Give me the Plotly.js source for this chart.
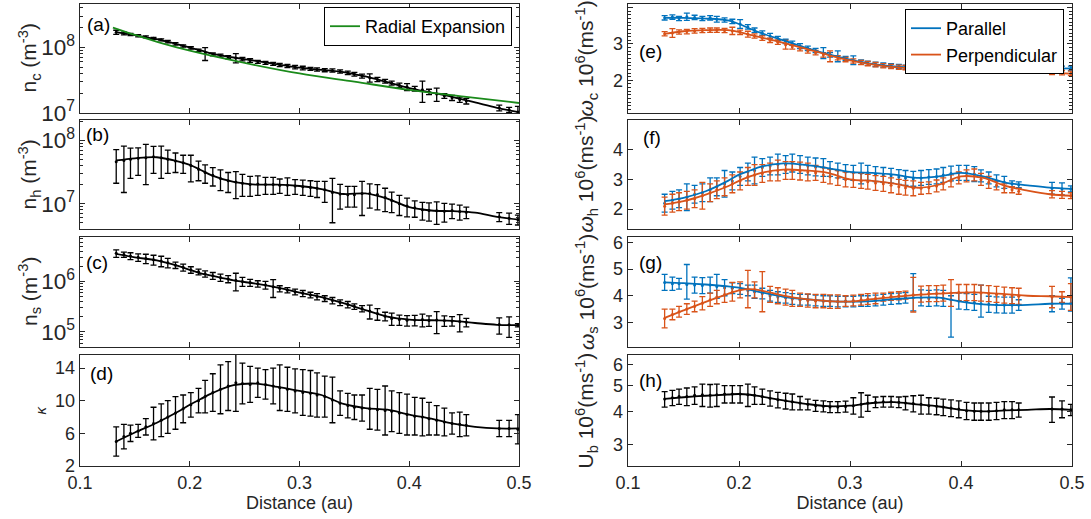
<!DOCTYPE html>
<html><head><meta charset="utf-8">
<script src="https://cdn.plot.ly/plotly-3.0.1.min.js"></script>
<style>body{margin:0;background:#fff}#chart{width:1091px;height:519px}</style>
</head><body><div id="chart"></div><script>
// ---------- data ----------
const distance = [0.133,0.140,0.146,0.153,0.160,0.167,0.174,0.180,0.187,0.194,
 0.201,0.208,0.214,0.221,0.228,0.235,0.242,0.248,0.255,0.262,
 0.269,0.276,0.282,0.289,0.296,0.303,0.310,0.316,0.323,0.330,
 0.337,0.344,0.350,0.357,0.364,0.371,0.378,0.384,0.391,0.398,
 0.405,0.412,0.418,0.425,0.432,0.439,0.446,0.452,0.482,0.491,0.499];
const fitDistance = [0.133,0.15,0.17,0.19,0.2,0.21,0.22,0.24,0.26,0.28,0.3,0.32,0.34,0.36,0.38,0.4,0.42,0.44,0.46,0.48,0.5];
const radialDistance = [0.13,0.15,0.175,0.2,0.25,0.3,0.35,0.4,0.45,0.5];
const radialExpansion = [2.0e8,1.55e8,1.15e8,8.9e7,5.8e7,4.0e7,3.0e7,2.25e7,1.78e7,1.42e7];

const ncData = [1.70e8,1.63e8,1.57e8,1.50e8,1.44e8,1.37e8,1.30e8,1.22e8,1.13e8,1.05e8,
 9.8e7,9.0e7,8.1e7,7.8e7,7.5e7,7.1e7,6.9e7,6.6e7,6.3e7,6.0e7,
 5.8e7,5.6e7,5.4e7,5.2e7,5.0e7,4.85e7,4.7e7,4.6e7,4.5e7,4.45e7,
 4.3e7,4.1e7,3.9e7,3.65e7,3.45e7,3.25e7,3.05e7,2.85e7,2.65e7,2.5e7,
 2.35e7,2.25e7,2.1e7,1.95e7,1.82e7,1.7e7,1.6e7,1.52e7,1.2e7,1.12e7,1.04e7];
const ncErr = [1.2e7,8e6,6e6,6e6,5e6,5e6,5e6,5e6,5e6,4e6,
 4e6,4e6,1.8e7,4e6,4e6,4e6,1.1e7,4e6,4e6,3e6,
 3e6,3e6,3e6,3e6,3e6,3e6,2.5e6,2.5e6,2.5e6,2.5e6,
 2.5e6,2.5e6,2.5e6,2.5e6,5e6,2.5e6,2e6,2e6,2e6,3e6,
 2e6,8e6,2e6,4.5e6,1.5e6,1.5e6,1.5e6,1.5e6,1.2e6,1e6,2.2e6];
const ncFit = [1.70e8,1.53e8,1.33e8,1.10e8,9.9e7,9.0e7,8.0e7,7.0e7,6.2e7,5.5e7,4.9e7,4.55e7,4.2e7,3.6e7,2.95e7,2.4e7,2.05e7,1.75e7,1.45e7,1.2e7,1.03e7];

const nhData = [4.6e7,4.8e7,5.0e7,5.2e7,5.3e7,5.5e7,5.3e7,5.0e7,4.7e7,4.4e7,
 4.0e7,3.5e7,3.1e7,2.8e7,2.5e7,2.3e7,2.2e7,2.1e7,2.0e7,2.05e7,
 2.0e7,2.0e7,1.95e7,1.95e7,1.9e7,1.85e7,1.8e7,1.75e7,1.65e7,1.5e7,
 1.42e7,1.38e7,1.38e7,1.45e7,1.45e7,1.4e7,1.25e7,1.12e7,1.0e7,9.2e6,
 8.6e6,8.0e6,7.8e6,7.7e6,7.6e6,7.8e6,7.5e6,7.3e6,6.2e6,5.9e6,5.6e6];
const nhErr = [2.5e7,3.3e7,2.5e7,2.4e7,3.3e7,2.5e7,2.8e7,2.0e7,1.6e7,1.4e7,
 1.8e7,1.2e7,1.0e7,9e6,9e6,8e6,1.0e7,8e6,7e6,7e6,
 6e6,6e6,5e6,6e6,5e6,5e6,5e6,5e6,6e6,1.0e7,
 6e6,5e6,5e6,8e6,6e6,6e6,5e6,4e6,3.5e6,3e6,
 2.5e6,2.5e6,2.5e6,3e6,2.5e6,2e6,2e6,1.5e6,1e6,1.2e6,1e6];
const nhFit = [4.8e7,5.2e7,5.4e7,4.6e7,4.1e7,3.4e7,2.8e7,2.2e7,2.0e7,2.0e7,1.9e7,1.7e7,1.42e7,1.45e7,1.2e7,8.8e6,7.8e6,7.6e6,7.2e6,6.2e6,5.6e6];

const nsData = [3.6e6,3.4e6,3.2e6,3.0e6,2.85e6,2.7e6,2.55e6,2.35e6,2.1e6,1.9e6,
 1.7e6,1.55e6,1.42e6,1.3e6,1.2e6,1.12e6,1.05e6,1.0e6,9.5e5,9.0e5,
 8.5e5,7.8e5,7.2e5,6.7e5,6.2e5,5.8e5,5.4e5,5.0e5,4.6e5,4.2e5,
 3.8e5,3.5e5,3.2e5,2.9e5,2.6e5,2.3e5,2.05e5,1.85e5,1.75e5,1.7e5,
 1.72e5,1.75e5,1.68e5,1.72e5,1.68e5,1.65e5,1.6e5,1.55e5,1.4e5,1.38e5,1.35e5];
const nsErr = [6e5,4e5,5e5,5e5,6e5,6e5,6e5,5e5,3e5,3e5,
 2.5e5,2e5,2e5,2e5,2e5,1.8e5,4e5,2e5,1.5e5,1.3e5,
 1.5e5,3e5,1e5,8e4,8e4,8e4,7e4,7e4,6e4,6e4,
 5e4,5e4,4e4,4e4,8e4,6e4,4e4,5e4,4e4,4e4,
 4e4,5e4,4e4,8e4,4e4,3.5e4,6e4,3e4,5e4,6e4,1e4];
const nsFit = [3.5e6,3.0e6,2.6e6,2.0e6,1.7e6,1.45e6,1.3e6,1.05e6,9.0e5,7.5e5,6.0e5,4.9e5,3.7e5,2.7e5,2.0e5,1.75e5,1.7e5,1.65e5,1.5e5,1.38e5,1.36e5];

const kappaData = [5.0,5.6,6.0,6.3,6.8,7.2,7.6,8.0,8.5,9.0,
 9.5,10.0,10.5,11.0,11.4,11.8,12.2,12.1,12.0,12.2,
 12.0,11.8,11.6,11.4,11.2,11.0,10.9,10.7,10.5,10.1,
 9.7,9.4,9.2,9.1,9.0,8.9,8.8,8.7,8.5,8.3,
 8.1,8.0,7.8,7.6,7.4,7.2,7.1,7.0,6.6,6.6,6.5];
const kappaErr = [1.8,1.5,1.0,0.8,1.0,2.0,2.0,2.0,2.0,1.7,
 1.5,1.5,2.0,2.3,3.0,3.0,3.5,2.5,2.2,1.8,
 1.8,2.2,2.8,2.7,2.7,2.8,2.8,2.7,2.5,2.8,
 1.5,1.5,1.5,1.6,2.5,2.5,3.0,2.5,2.5,2.5,
 2.3,2.3,2.0,1.8,1.7,1.3,1.5,1.3,1.0,1.0,1.8];
const kappaFit = [5.0,6.1,7.3,8.7,9.5,10.2,10.9,11.9,12.1,11.7,11.2,10.7,9.6,9.1,8.9,8.3,7.8,7.2,6.8,6.6,6.6];

const wcPar = [3.72,3.74,3.70,3.75,3.73,3.70,3.72,3.68,3.66,3.62,
 3.55,3.47,3.38,3.30,3.22,3.15,3.07,3.02,2.94,2.88,
 2.82,2.75,2.70,2.66,2.60,2.55,2.50,2.47,2.44,2.42,
 2.40,2.38,2.36,2.35,2.34,2.33,2.33,2.32,2.32,2.33,
 2.32,2.31,2.31,2.30,2.32,2.31,2.31,2.31,2.32,2.33,2.33];
const wcParErr = [0.06,0.06,0.06,0.10,0.06,0.06,0.06,0.08,0.06,0.06,
 0.12,0.06,0.06,0.06,0.07,0.06,0.06,0.06,0.07,0.06,
 0.06,0.15,0.06,0.15,0.06,0.12,0.06,0.06,0.06,0.06,
 0.06,0.06,0.06,0.06,0.06,0.06,0.06,0.06,0.06,0.06,
 0.06,0.06,0.06,0.10,0.06,0.06,0.06,0.06,0.06,0.06,0.06];
const wcParFit = [3.72,3.72,3.70,3.65,3.55,3.42,3.30,3.10,2.90,2.72,2.57,2.45,2.38,2.34,2.32,2.32,2.31,2.31,2.31,2.32,2.33];
const wcPerp = [3.28,3.30,3.33,3.34,3.36,3.37,3.38,3.38,3.37,3.36,
 3.32,3.27,3.22,3.16,3.10,3.05,2.98,2.92,2.87,2.81,
 2.76,2.70,2.66,2.62,2.57,2.53,2.49,2.46,2.43,2.40,
 2.38,2.36,2.35,2.33,2.32,2.31,2.30,2.30,2.29,2.28,
 2.28,2.28,2.27,2.27,2.27,2.27,2.26,2.26,2.22,2.21,2.19];
const wcPerpErr = [0.06,0.12,0.06,0.06,0.06,0.06,0.06,0.06,0.06,0.10,
 0.06,0.08,0.06,0.06,0.06,0.06,0.12,0.06,0.06,0.06,
 0.06,0.06,0.15,0.06,0.06,0.06,0.06,0.06,0.06,0.06,
 0.06,0.06,0.06,0.06,0.10,0.06,0.06,0.06,0.06,0.06,
 0.06,0.06,0.06,0.06,0.06,0.06,0.06,0.06,0.06,0.06,0.06];
const wcPerpFit = [3.28,3.35,3.38,3.38,3.33,3.25,3.18,3.03,2.87,2.70,2.55,2.44,2.36,2.32,2.30,2.28,2.27,2.27,2.25,2.22,2.18];

const whPar = [2.2,2.3,2.35,2.4,2.5,2.55,2.65,2.75,2.85,2.95,
 3.1,3.25,3.3,3.4,3.45,3.5,3.5,3.55,3.5,3.45,
 3.42,3.4,3.35,3.3,3.25,3.22,3.2,3.22,3.18,3.15,
 3.12,3.08,3.05,3.02,3.05,3.08,3.1,3.15,3.2,3.22,
 3.22,3.18,3.12,3.05,2.95,2.9,2.85,2.82,2.7,2.68,2.68];
const whParErr = [0.3,0.3,0.3,0.45,0.3,0.3,0.4,0.3,0.45,0.3,
 0.3,0.3,0.45,0.3,0.3,0.35,0.3,0.3,0.3,0.3,
 0.3,0.3,0.25,0.25,0.25,0.25,0.35,0.25,0.25,0.25,
 0.25,0.25,0.25,0.25,0.25,0.25,0.25,0.25,0.25,0.25,
 0.25,0.25,0.2,0.2,0.2,0.2,0.1,0.1,0.2,0.2,0.1];
const whParFit = [2.27,2.38,2.6,2.95,3.16,3.3,3.43,3.54,3.49,3.38,3.25,3.22,3.16,3.05,3.1,3.22,3.1,2.89,2.8,2.72,2.68];
const whPerp = [2.1,2.2,2.25,2.3,2.35,2.45,2.55,2.65,2.75,2.85,
 2.95,3.1,3.15,3.2,3.25,3.3,3.3,3.3,3.28,3.25,
 3.22,3.15,3.1,3.05,3.0,2.98,2.95,2.92,2.88,2.85,
 2.8,2.75,2.72,2.7,2.7,2.72,2.78,2.85,2.95,3.05,
 3.12,3.15,3.0,2.9,2.8,2.7,2.65,2.6,2.5,2.48,2.45];
const whPerpErr = [0.3,0.3,0.3,0.3,0.3,0.45,0.3,0.3,0.3,0.3,
 0.3,0.3,0.35,0.3,0.3,0.35,0.3,0.3,0.3,0.3,
 0.25,0.25,0.25,0.25,0.25,0.25,0.25,0.25,0.25,0.25,
 0.25,0.25,0.25,0.25,0.2,0.2,0.2,0.2,0.2,0.2,
 0.2,0.2,0.2,0.2,0.15,0.15,0.1,0.1,0.12,0.12,0.1];
const whPerpFit = [2.16,2.27,2.49,2.77,2.95,3.1,3.22,3.33,3.30,3.22,3.0,2.95,2.86,2.72,2.82,3.1,3.05,2.78,2.62,2.5,2.45];

const wsPar = [4.5,4.45,4.45,4.42,4.4,4.38,4.4,4.35,4.3,4.28,
 4.25,4.2,4.15,4.08,4.0,3.95,3.92,3.88,3.85,3.85,
 3.82,3.8,3.8,3.78,3.78,3.78,3.8,3.8,3.82,3.85,
 3.88,3.9,3.92,3.93,3.92,3.9,3.92,3.9,3.85,3.8,
 3.78,3.75,3.7,3.68,3.66,3.65,3.65,3.65,3.7,3.7,3.72];
const wsParErrUp = [0.3,0.25,0.2,0.75,0.3,0.3,0.3,0.45,0.3,0.2,
 0.2,0.2,0.25,0.2,0.2,0.2,0.2,0.2,0.2,0.2,
 0.2,0.2,0.2,0.2,0.2,0.2,0.2,0.2,0.2,0.2,
 0.2,0.2,0.2,0.9,0.3,0.3,0.3,0.3,0.15,0.3,
 0.3,0.3,0.7,0.3,0.3,0.3,0.3,0.2,0.3,0.2,0.95];
const wsParErrDown = [0.3,0.25,0.2,0.55,0.3,0.3,0.3,0.45,0.3,0.2,
 0.2,0.2,0.25,0.2,0.2,0.2,0.2,0.2,0.2,0.2,
 0.2,0.2,0.2,0.2,0.2,0.2,0.2,0.2,0.2,0.2,
 0.2,0.2,0.2,0.5,0.3,0.3,0.3,0.3,1.4,0.3,
 0.3,0.3,0.5,0.3,0.3,0.3,0.3,0.2,0.3,0.2,0.3];
const wsParFit = [4.5,4.47,4.42,4.35,4.3,4.22,4.13,3.96,3.87,3.8,3.78,3.8,3.87,3.93,3.93,3.78,3.68,3.65,3.66,3.7,3.7];
const wsPerp = [3.15,3.3,3.4,3.5,3.6,3.72,3.85,3.95,4.05,4.15,
 4.22,4.25,4.22,4.15,4.05,4.0,3.95,3.9,3.85,3.82,
 3.8,3.8,3.78,3.78,3.8,3.82,3.85,3.88,3.9,3.95,
 3.98,4.0,4.02,4.04,4.06,4.08,4.08,4.1,4.1,4.12,
 4.12,4.12,4.1,4.08,4.05,4.02,4.0,3.98,3.95,3.95,3.95];
const wsPerpErr = [0.35,0.2,0.2,0.2,0.2,0.25,0.25,0.25,0.3,0.35,
 0.3,0.7,0.3,0.75,0.3,0.3,0.3,0.3,0.25,0.25,
 0.25,0.25,0.25,0.25,0.2,0.2,0.2,0.2,0.2,0.15,
 0.15,0.15,0.15,0.65,0.3,0.3,0.3,0.3,0.5,0.3,
 0.3,0.3,0.3,0.3,0.3,0.3,0.3,0.3,0.4,0.2,0.5];
const wsPerpFit = [3.17,3.45,3.77,4.07,4.2,4.25,4.2,4.0,3.87,3.8,3.78,3.87,3.96,4.03,4.08,4.12,4.12,4.06,4.0,3.98,3.95];

const ubData = [4.45,4.5,4.55,4.55,4.6,4.62,4.6,4.62,4.65,4.65,
 4.65,4.62,4.6,4.55,4.48,4.42,4.38,4.35,4.3,4.25,
 4.2,4.18,4.15,4.15,4.17,4.2,4.25,4.3,4.33,4.35,
 4.35,4.33,4.3,4.28,4.25,4.2,4.18,4.15,4.12,4.08,
 4.02,4.0,4.0,4.0,4.02,4.05,4.05,4.05,4.08,4.08,4.05];
const ubErr = [0.3,0.3,0.3,0.35,0.35,0.45,0.45,0.45,0.35,0.35,
 0.35,0.45,0.35,0.3,0.3,0.3,0.3,0.3,0.25,0.2,
 0.2,0.2,0.2,0.2,0.2,0.3,0.45,0.3,0.2,0.2,
 0.2,0.2,0.25,0.3,0.35,0.3,0.3,0.3,0.3,0.3,
 0.3,0.3,0.3,0.3,0.3,0.3,0.3,0.25,0.45,0.3,0.2];
const ubFit = [4.46,4.52,4.58,4.63,4.65,4.62,4.55,4.4,4.27,4.18,4.2,4.3,4.33,4.25,4.17,4.05,4.0,4.03,4.05,4.08,4.05];

const panelLetters = ['(a)','(b)','(c)','(d)','(e)','(f)','(g)','(h)'];
const yTitles = ['n<sub>c</sub> (m<sup>-3</sup>)','n<sub>h</sub> (m<sup>-3</sup>)','n<sub>s</sub> (m<sup>-3</sup>)','<i>κ</i>',
 '<i>ω</i><sub>c</sub> 10<sup>6</sup>(ms<sup>-1</sup>)','<i>ω</i><sub>h</sub> 10<sup>6</sup>(ms<sup>-1</sup>)',
 '<i>ω</i><sub>s</sub> 10<sup>6</sup>(ms<sup>-1</sup>)','U<sub>b</sub> 10<sup>6</sup>(ms<sup>-1</sup>)'];
const xTitle = 'Distance (au)';
const legendNames = ['Radial Expansion','Parallel','Perpendicular'];

// ---------- styling ----------
const W = 1091, H = 519;
const FONT = 'Liberation Sans, Arial, sans-serif';
const TXT = '#262626';
const BLUE = '#0072BD', ORANGE = '#D95319', BLACK = '#000000', GREEN = '#1a8a1a';
const colPx = [[80, 519], [628, 1072]];
const rowPx = [[4, 113], [120, 229], [237, 347], [355, 466]];

const traces = [];
function errTrace(k, y, e, color, eMinus) {
  const ey = {type: 'data', array: e, visible: true, color: color, thickness: 1.3, width: 3};
  if (eMinus) { ey.symmetric = false; ey.arrayminus = eMinus; }
  traces.push({x: distance, y: y, type: 'scatter', mode: 'markers',
    xaxis: 'x' + (k + 1), yaxis: 'y' + (k + 1), showlegend: false, hoverinfo: 'skip',
    marker: {color: color, size: 3}, error_y: ey});
}
function fitTrace(k, xs, y, color, name, legend) {
  traces.push({x: xs, y: y, type: 'scatter', mode: 'lines',
    xaxis: 'x' + (k + 1), yaxis: 'y' + (k + 1), name: name || '', showlegend: !!name,
    legend: legend || 'legend', hoverinfo: 'skip',
    line: {color: color, width: 1.8, shape: 'spline', smoothing: 1}});
}

errTrace(0, ncData, ncErr, BLACK); fitTrace(0, fitDistance, ncFit, BLACK);
fitTrace(0, radialDistance, radialExpansion, GREEN, legendNames[0], 'legend');
errTrace(1, nhData, nhErr, BLACK); fitTrace(1, fitDistance, nhFit, BLACK);
errTrace(2, nsData, nsErr, BLACK); fitTrace(2, fitDistance, nsFit, BLACK);
errTrace(3, kappaData, kappaErr, BLACK); fitTrace(3, fitDistance, kappaFit, BLACK);
errTrace(4, wcPar, wcParErr, BLUE); errTrace(4, wcPerp, wcPerpErr, ORANGE);
fitTrace(4, fitDistance, wcParFit, BLUE, legendNames[1], 'legend2');
fitTrace(4, fitDistance, wcPerpFit, ORANGE, legendNames[2], 'legend2');
errTrace(5, whPar, whParErr, BLUE); errTrace(5, whPerp, whPerpErr, ORANGE);
fitTrace(5, fitDistance, whParFit, BLUE); fitTrace(5, fitDistance, whPerpFit, ORANGE);
errTrace(6, wsPar, wsParErrUp, BLUE, wsParErrDown); errTrace(6, wsPerp, wsPerpErr, ORANGE);
fitTrace(6, fitDistance, wsParFit, BLUE); fitTrace(6, fitDistance, wsPerpFit, ORANGE);
errTrace(7, ubData, ubErr, BLACK); fitTrace(7, fitDistance, ubFit, BLACK);

const yCfg = [
  {type: 'log', range: [7, 8.66], dtick: 1, minor: true},
  {type: 'log', range: [6.6, 8.32], dtick: 1, minor: true},
  {type: 'log', range: [4.7, 6.88], dtick: 1, minor: true},
  {type: 'linear', range: [2, 15.6], tickvals: [2, 6, 10, 14]},
  {type: 'linear', range: [1.1, 4.1], tickvals: [2, 3, 4], lminor: 0.1},
  {type: 'linear', range: [1.33, 5.0], tickvals: [2, 3, 4]},
  {type: 'linear', range: [2.08, 6.2], tickvals: [3, 4, 5, 6]},
  {type: 'log', range: [0.395, 0.815], tickvals: [3, 4, 5, 6]}
];

const layout = {width: W, height: H, margin: {l: 0, r: 0, t: 0, b: 0},
  paper_bgcolor: '#fff', plot_bgcolor: '#fff', font: {family: FONT, color: TXT, size: 16},
  annotations: [], showlegend: true,
  legend: {x: 512 / W, xanchor: 'right', y: 1 - 7 / H, yanchor: 'top', bgcolor: '#fff',
    bordercolor: '#000', borderwidth: 1, font: {size: 18, color: '#000', family: FONT}, tracegroupgap: 0},
  legend2: {x: 1064 / W, xanchor: 'right', y: 1 - 9 / H, yanchor: 'top', bgcolor: '#fff',
    bordercolor: '#000', borderwidth: 1, font: {size: 18, color: '#000', family: FONT}, tracegroupgap: 0}
};

const letterPos = [[0.012, 0.93], [0.008, 0.98], [0.008, 0.88], [0.018, 0.95],
                   [0.02, 0.68], [0.03, 0.95], [0.02, 0.88], [0.02, 0.88]];
for (let k = 0; k < 8; k++) {
  const col = k < 4 ? 0 : 1, row = k % 4;
  const xd = [colPx[col][0] / W, colPx[col][1] / W];
  const yd = [1 - rowPx[row][1] / H, 1 - rowPx[row][0] / H];
  const bottom = row === 3;
  const xa = {domain: xd, range: [0.1, 0.5], tick0: 0.1, dtick: 0.1, ticks: 'inside', ticklen: 5,
    tickcolor: TXT, showline: true, linecolor: TXT, linewidth: 1.3, mirror: 'ticks',
    showgrid: false, zeroline: false, showticklabels: bottom, anchor: 'y' + (k + 1),
    tickfont: {size: 18, family: FONT, color: TXT}};
  if (bottom) xa.title = {text: xTitle, font: {size: 18, family: FONT, color: TXT}, standoff: 0};
  const c = yCfg[k];
  const ya = {domain: yd, type: c.type, range: c.range, ticks: 'inside', ticklen: 5, tickcolor: TXT,
    showline: true, linecolor: TXT, linewidth: 1.3, mirror: 'ticks', showgrid: false, zeroline: false,
    anchor: 'x' + (k + 1), tickfont: {size: 18, family: FONT, color: TXT}};
  if (c.dtick) { ya.dtick = c.dtick; ya.exponentformat = 'power'; }
  if (c.tickvals) { ya.tickmode = 'array'; ya.tickvals = c.tickvals; }
  if (c.minor) ya.minor = {ticks: 'inside', ticklen: 3, tickcolor: TXT, dtick: 'D1', showgrid: false};
  if (c.lminor) ya.minor = {ticks: 'inside', ticklen: 3, tickcolor: TXT, dtick: c.lminor, showgrid: false};
  layout['xaxis' + (k === 0 ? '' : k + 1)] = xa;
  layout['yaxis' + (k === 0 ? '' : k + 1)] = ya;

  layout.annotations.push({text: panelLetters[k], xref: 'x' + (k + 1) + ' domain', yref: 'y' + (k + 1) + ' domain',
    x: letterPos[k][0], y: letterPos[k][1], xanchor: 'left', yanchor: 'top', showarrow: false,
    font: {size: 19, family: FONT, color: '#000'}});
  const tx = col === 0 ? (k === 3 ? 40 : 29) : 586;
  layout.annotations.push({text: yTitles[k], xref: 'paper', yref: 'paper', x: tx / W,
    y: (yd[0] + yd[1]) / 2, xanchor: 'center', yanchor: 'middle', textangle: -90, showarrow: false,
    font: {size: k === 3 ? 15 : 21, family: FONT, color: TXT}});
}

Plotly.newPlot('chart', traces, layout, {staticPlot: true, displayModeBar: false});
</script></body></html>
